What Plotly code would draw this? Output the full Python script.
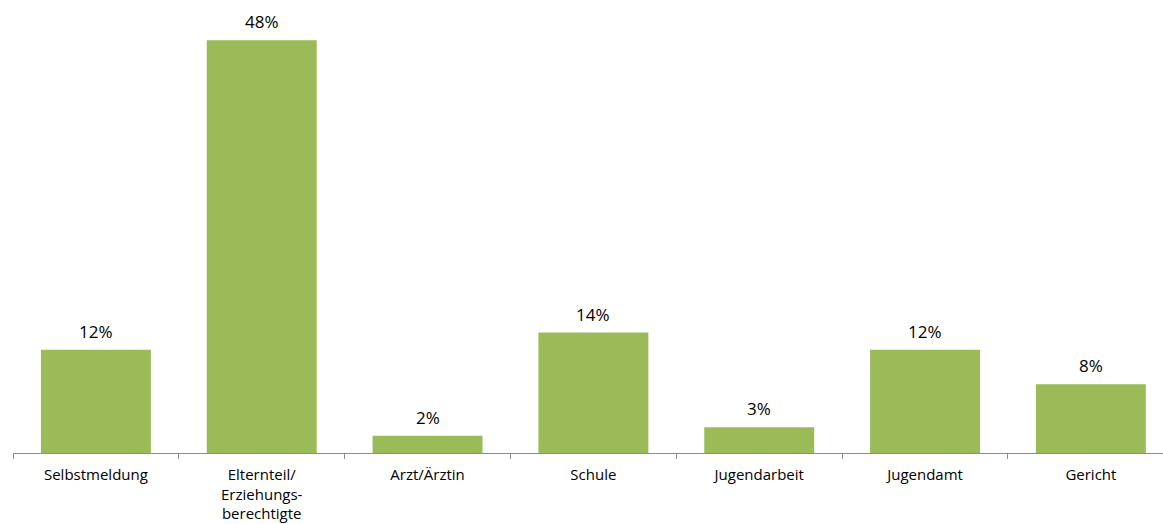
import plotly.graph_objects as go

categories = ["Selbstmeldung", "Elternteil/<br>Erziehungs-<br>berechtigte", "Arzt/Ärztin",
              "Schule", "Jugendarbeit", "Jugendamt", "Gericht"]
shares = [12, 48, 2, 14, 3, 12, 8]
share_labels = [f"{v}%" for v in shares]

FONT = "Open Sans, Lato, sans-serif"

fig = go.Figure(go.Bar(
    x=categories,
    y=shares,
    marker=dict(color="#9BBB59", line=dict(width=0)),
    hoverinfo="skip",
))

# value labels above each bar
for cat, val, lab in zip(categories, shares, share_labels):
    fig.add_annotation(
        x=cat, y=val, text=lab, showarrow=False,
        yanchor="bottom", yshift=5,
        font=dict(family=FONT, size=17, color="#000000"),
    )

fig.update_layout(
    width=1163, height=524,
    margin=dict(l=13, r=0, t=23, b=71),
    paper_bgcolor="white", plot_bgcolor="white",
    bargap=0.337,
    showlegend=False,
    font=dict(family=FONT, color="#000000"),
)
fig.update_xaxes(
    type="category",
    range=[-0.5, 6.435],
    showline=True, linecolor="#8c8c8c", linewidth=1,
    ticks="outside", tickson="boundaries", ticklen=5, tickcolor="#8c8c8c",
    tickfont=dict(family=FONT, size=15, color="#000000"),
    ticklabelstandoff=8,
    showgrid=False, zeroline=False,
)
fig.update_yaxes(
    range=[0, 50], visible=False, showgrid=False, zeroline=False,
)

fig.write_html("out.html")
